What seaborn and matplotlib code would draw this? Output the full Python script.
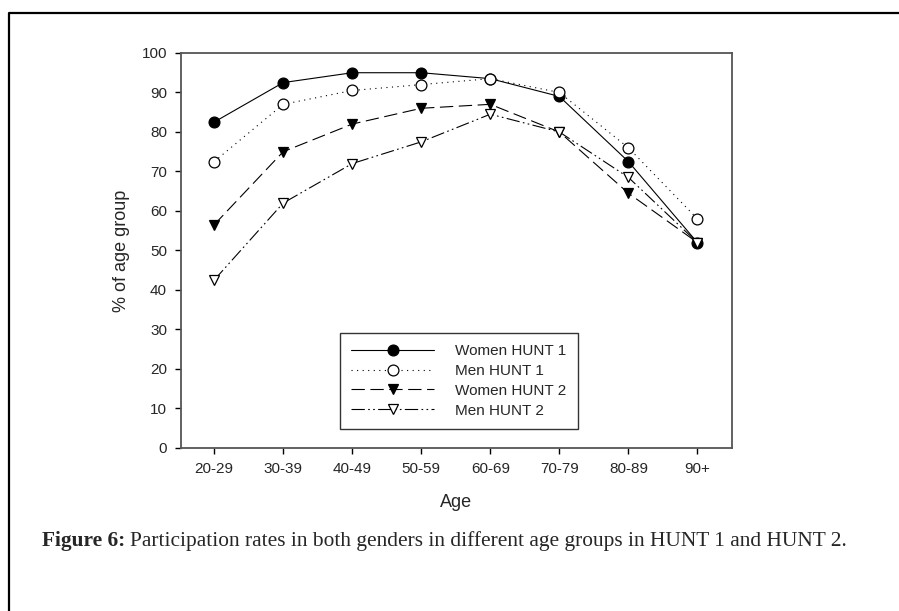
import pandas as pd
import seaborn as sns
import matplotlib.pyplot as plt
from matplotlib.lines import Line2D

age_groups = ["20-29", "30-39", "40-49", "50-59", "60-69", "70-79", "80-89", "90+"]
women_hunt1 = [82.5, 92.5, 95.0, 95.0, 93.5, 89.0, 72.5, 52.0]
men_hunt1 = [72.5, 87.0, 90.5, 92.0, 93.5, 90.0, 76.0, 58.0]
women_hunt2 = [56.5, 75.0, 82.0, 86.0, 87.0, 80.0, 64.5, 52.0]
men_hunt2 = [42.5, 62.0, 72.0, 77.5, 84.5, 80.0, 68.5, 52.0]

series = {
    "Women HUNT 1": women_hunt1,
    "Men HUNT 1": men_hunt1,
    "Women HUNT 2": women_hunt2,
    "Men HUNT 2": men_hunt2,
}

styles = {
    "Women HUNT 1": dict(linestyle="-", marker="o", markerfacecolor="black"),
    "Men HUNT 1": dict(linestyle=(0, (1, 4)), marker="o", markerfacecolor="white"),
    "Women HUNT 2": dict(linestyle=(0, (12, 5)), marker="v", markerfacecolor="black"),
    "Men HUNT 2": dict(linestyle=(0, (12, 3, 1.5, 3, 1.5, 3)), marker="v", markerfacecolor="white"),
}


def build_frame() -> pd.DataFrame:
    rows = []
    for name, values in series.items():
        for i, v in enumerate(values):
            rows.append({"series": name, "pos": i, "value": v})
    return pd.DataFrame(rows)


def draw_chart(df: pd.DataFrame, output: str) -> None:
    sns.set_style("white")
    plt.rcParams["font.family"] = ["Liberation Sans", "DejaVu Sans"]

    fig = plt.figure(figsize=(8.99, 6.11), dpi=100)
    ax = fig.add_axes([0.2013, 0.2668, 0.6129, 0.6465])

    for name in series:
        sns.lineplot(
            data=df[df["series"] == name],
            x="pos",
            y="value",
            ax=ax,
            color="black",
            linewidth=0.8,
            markersize=7.8,
            markeredgecolor="black",
            markeredgewidth=0.9,
            label=name,
            **styles[name],
        )

    ax.set_xlim(-0.48, 7.5)
    ax.set_ylim(0, 100)
    ax.set_xticks(range(len(age_groups)))
    ax.set_xticklabels(age_groups)
    ax.set_yticks(range(0, 101, 10))

    for sp in ax.spines.values():
        sp.set_color("#555555")
        sp.set_linewidth(1.3)

    ax.tick_params(axis="both", direction="out", length=4, width=1, color="black",
                   labelsize=11, pad=6, bottom=True, left=True, top=False, right=False)

    ax.set_xlabel("Age", fontsize=13)
    ax.set_ylabel("% of age group", fontsize=13)
    ax.xaxis.set_label_coords(0.5, -0.139)
    ax.xaxis.label.set_va("center")
    ax.yaxis.set_label_coords(-0.108, 0.5)
    ax.yaxis.label.set_va("center")

    leg = ax.legend(
        loc="lower left",
        bbox_to_anchor=(0.2886, 0.048),
        borderaxespad=0,
        fontsize=11,
        frameon=True,
        fancybox=False,
        edgecolor="black",
        handlelength=5.4,
        handletextpad=1.4,
        borderpad=0.75,
        labelspacing=0.38,
    )
    leg.get_frame().set_linewidth(1.0)

    # outer frame of the page figure
    fig.add_artist(Line2D([0.01, 0.01, 1.0], [0.0, 0.9787, 0.9787],
                          transform=fig.transFigure, color="black", lw=1.6))

    # caption: bold lead-in followed by regular text
    cap_y = 1 - 541 / 611
    bold = fig.text(42 / 899, cap_y, "Figure 6:", family="Liberation Serif",
                    fontweight="bold", fontsize=15.4, va="center", ha="left")
    fig.canvas.draw()
    bb = bold.get_window_extent(renderer=fig.canvas.get_renderer())
    fig.text(bb.x1 / fig.bbox.width + 5 / 899, cap_y,
             "Participation rates in both genders in different age groups in HUNT 1 and HUNT 2.",
             family="Liberation Serif", fontsize=15.4, va="center", ha="left")

    fig.savefig(output, dpi=100)
    plt.close(fig)


if __name__ == "__main__":
    draw_chart(build_frame(), "out.png")
